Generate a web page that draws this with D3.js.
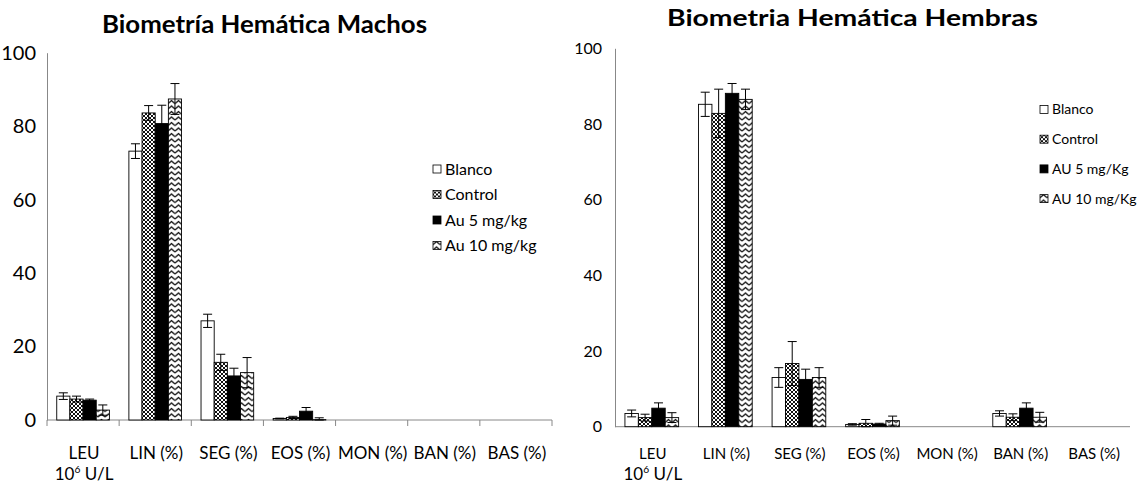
<!DOCTYPE html>
<html>
<head>
<meta charset="utf-8">
<script src="https://cdn.jsdelivr.net/npm/d3@7"></script>
<style>
  body { margin: 0; background: #fff; }
  svg { display: block; }
</style>
</head>
<body>
<div class="vis-container"></div>
<script>
// categories and tick labels
var categories = ["LEU", "LIN (%)", "SEG (%)", "EOS (%)", "MON (%)", "BAN (%)", "BAS (%)"];
var yTicks = [0, 20, 40, 60, 80, 100];
var seriesMachos = ["Blanco", "Control", "Au 5 mg/kg", "Au 10 mg/kg"];
var seriesHembras = ["Blanco", "Control", "AU 5 mg/Kg", "AU 10 mg/Kg"];

// machos values and errors
var machosBlanco = [6.5, 73.2, 27.0, 0.4, 0, 0, 0];
var machosControl = [5.7, 83.6, 15.7, 0.7, 0, 0, 0];
var machosAu5 = [5.4, 80.7, 12.0, 2.4, 0, 0, 0];
var machosAu10 = [2.7, 87.4, 12.9, 0.1, 0, 0, 0];
var machosBlancoErr = [0.9, 2.0, 1.8, 0.1, 0, 0, 0];
var machosControlErr = [0.8, 2.0, 2.2, 0.3, 0, 0, 0];
var machosAu5Err = [0.3, 5.0, 2.1, 1.0, 0, 0, 0];
var machosAu10Err = [1.4, 4.2, 4.1, 0.5, 0, 0, 0];

// hembras values and errors
var hembrasBlanco = [3.5, 85.2, 13.0, 0.6, 0, 3.5, 0];
var hembrasControl = [2.4, 82.8, 16.7, 0.9, 0, 2.5, 0];
var hembrasAu5 = [4.9, 88.1, 12.5, 0.7, 0, 4.9, 0];
var hembrasAu10 = [2.4, 86.5, 13.0, 1.6, 0, 2.5, 0];
var hembrasBlancoErr = [0.9, 3.2, 2.6, 0.2, 0, 0.7, 0];
var hembrasControlErr = [0.9, 6.4, 5.8, 1.0, 0, 0.9, 0];
var hembrasAu5Err = [1.4, 2.6, 2.7, 0.2, 0, 1.4, 0];
var hembrasAu10Err = [1.3, 2.7, 2.6, 1.2, 0, 1.3, 0];

var svg = d3.select(".vis-container").append("svg")
  .attr("width", 1141)
  .attr("height", 486);

var defs = svg.append("defs");

// crosshatch pattern (Control)
var hatch = defs.append("pattern")
  .attr("id", "hatch")
  .attr("patternUnits", "userSpaceOnUse")
  .attr("width", 4).attr("height", 4);
hatch.append("rect").attr("width", 4).attr("height", 4).attr("fill", "#fff");
hatch.append("path")
  .attr("d", "M0,0 L4,4 M4,0 L0,4")
  .attr("stroke", "#111").attr("stroke-width", 1);

// chevron pattern (Au 10)
var chev = defs.append("pattern")
  .attr("id", "chev")
  .attr("patternUnits", "userSpaceOnUse")
  .attr("width", 7).attr("height", 5.5);
chev.append("rect").attr("width", 7).attr("height", 5.5).attr("fill", "#fff");
chev.append("path")
  .attr("d", "M0,4.5 L3.5,1.5 L7,4.5")
  .attr("fill", "none")
  .attr("stroke", "#111").attr("stroke-width", 1.3);

var fills = ["#fff", "url(#hatch)", "#000", "url(#chev)"];

function drawChart(cfg) {
  var g = svg.append("g");

  var x = d3.scaleBand()
    .domain(categories)
    .range([cfg.left, cfg.right])
    .padding(0);

  var xs = d3.scaleBand()
    .domain(d3.range(cfg.values.length))
    .range([0, x.bandwidth()])
    .paddingInner(0)
    .paddingOuter(0.74);

  var y = d3.scaleLinear()
    .domain([0, 100])
    .range([cfg.bottom, cfg.top]);

  // y axis
  var yAxis = g.append("g")
    .attr("transform", "translate(" + cfg.left + ",0)")
    .call(d3.axisLeft(y).tickValues(yTicks).tickSize(0).tickSizeOuter(0).tickPadding(cfg.yPad));
  yAxis.select(".domain").attr("stroke", "#888");
  yAxis.selectAll("text")
    .attr("font-family", cfg.font)
    .attr("font-size", cfg.yFont)
    .attr("fill", "#000");

  // x axis line
  g.append("line")
    .attr("x1", cfg.left).attr("x2", cfg.right)
    .attr("y1", y(0)).attr("y2", y(0))
    .attr("stroke", "#888");

  if (cfg.xTicks) {
    var bounds = categories.map(function(c) { return x(c); }).concat([cfg.right]);
    g.selectAll(".xtick")
      .data(bounds)
      .enter().append("line")
      .attr("x1", function(d) { return d; })
      .attr("x2", function(d) { return d; })
      .attr("y1", y(0)).attr("y2", y(0) + 6)
      .attr("stroke", "#888");
  }

  // bars
  cfg.values.forEach(function(vals, s) {
    g.selectAll(".bar" + s)
      .data(vals)
      .enter().append("rect")
      .attr("x", function(d, i) { return x(categories[i]) + xs(s); })
      .attr("width", xs.bandwidth())
      .attr("y", function(d) { return y(d); })
      .attr("height", function(d) { return y(0) - y(d); })
      .attr("fill", fills[s])
      .attr("stroke", "#000")
      .attr("stroke-width", 0.9);
  });

  // error bars
  cfg.values.forEach(function(vals, s) {
    var errs = cfg.errors[s];
    vals.forEach(function(v, i) {
      if (!errs[i]) return;
      var cx = x(categories[i]) + xs(s) + xs.bandwidth() / 2;
      var y1 = y(v + errs[i]), y2 = y(Math.max(0, v - errs[i]));
      g.append("path")
        .attr("d", "M" + cx + "," + y1 + "V" + y2 +
          "M" + (cx - 4.5) + "," + y1 + "H" + (cx + 4.5) +
          "M" + (cx - 4.5) + "," + y2 + "H" + (cx + 4.5))
        .attr("stroke", "#000")
        .attr("stroke-width", 1)
        .attr("fill", "none");
    });
  });

  // category labels
  g.selectAll(".xlab")
    .data(categories)
    .enter().append("text")
    .attr("x", function(d) { return x(d) + x.bandwidth() / 2 + 1; })
    .attr("y", cfg.xLabY)
    .attr("text-anchor", "middle")
    .attr("font-family", cfg.font)
    .attr("font-size", cfg.xFont)
    .text(function(d) { return d; });

  // unit under LEU
  var unit = g.append("text")
    .attr("x", x(categories[0]) + x.bandwidth() / 2 + 1)
    .attr("y", cfg.unitY)
    .attr("text-anchor", "middle")
    .attr("font-family", cfg.font)
    .attr("font-size", cfg.unitFont);
  unit.append("tspan").text("10");
  unit.append("tspan").attr("dy", -7).attr("font-size", cfg.unitFont * 0.6).text("6");
  unit.append("tspan").attr("dy", 7).text(" U/L");

  // title
  g.append("text")
    .attr("x", cfg.titleX)
    .attr("y", cfg.titleY)
    .attr("font-family", cfg.font)
    .attr("font-weight", "bold")
    .attr("font-size", cfg.titleFont)
    .attr("textLength", cfg.titleLen)
    .attr("lengthAdjust", "spacingAndGlyphs")
    .text(cfg.title);

  // legend
  var leg = g.selectAll(".leg")
    .data(cfg.series)
    .enter().append("g")
    .attr("transform", function(d, i) {
      return "translate(" + cfg.legX + "," + (cfg.legY + i * cfg.legStep) + ")";
    });
  leg.append("rect")
    .attr("x", 0).attr("y", -4)
    .attr("width", 8).attr("height", 8)
    .attr("fill", function(d, i) { return fills[i]; })
    .attr("stroke", "#000")
    .attr("stroke-width", 0.8);
  leg.append("text")
    .attr("x", 12)
    .attr("dy", "0.35em")
    .attr("font-family", cfg.font)
    .attr("font-size", cfg.legFont)
    .text(function(d) { return d; });
}

drawChart({
  title: "Biometría Hemática Machos",
  titleX: 102, titleY: 33, titleFont: 24, titleLen: 325,
  font: "Lato, 'Open Sans', sans-serif",
  left: 47, right: 552, top: 52.7, bottom: 420,
  yPad: 11, yFont: 20, xTicks: true,
  xLabY: 459, xFont: 17, unitY: 480, unitFont: 17,
  series: seriesMachos,
  values: [machosBlanco, machosControl, machosAu5, machosAu10],
  errors: [machosBlancoErr, machosControlErr, machosAu5Err, machosAu10Err],
  legX: 433, legY: 169, legStep: 25.5, legFont: 16
});

drawChart({
  title: "Biometria Hemática Hembras",
  titleX: 667, titleY: 26, titleFont: 22, titleLen: 371,
  font: "Lato, 'Open Sans', sans-serif",
  left: 615, right: 1130, top: 48.3, bottom: 426.7,
  yPad: 13, yFont: 16, xTicks: false,
  xLabY: 459, xFont: 15, unitY: 480, unitFont: 17,
  series: seriesHembras,
  values: [hembrasBlanco, hembrasControl, hembrasAu5, hembrasAu10],
  errors: [hembrasBlancoErr, hembrasControlErr, hembrasAu5Err, hembrasAu10Err],
  legX: 1040, legY: 109.5, legStep: 29.7, legFont: 14
});
</script>
</body>
</html>
